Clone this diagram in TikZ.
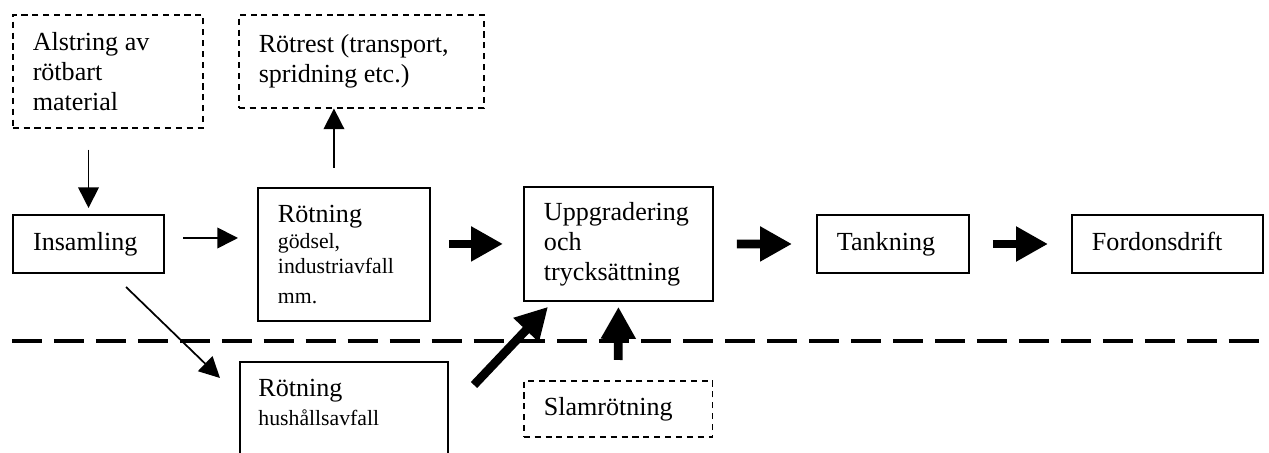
\documentclass[tikz,border=0pt]{standalone}
\usepackage{fontspec}
\setmainfont{Liberation Serif}
\usetikzlibrary{arrows.meta,calc}
\tikzset{
  box/.style={draw, line width=0.9pt, anchor=north west, align=flush left, inner xsep=9.2pt, inner ysep=0pt,
    font=\fontsize{12}{13.8}\selectfont},
  dbox/.style={box, line width=0.7pt, dash pattern=on 2.8pt off 2.2pt},
  oneline/.style={text height=9.4pt, text depth=3pt},
  txt/.style={anchor=base west, align=flush left, inner sep=0pt, font=\fontsize{12}{13.8}\selectfont},
  tarr/.style={line width=0.8pt, -{Triangle[length=9.5pt,width=9.5pt]}},
  karr/.style={line width=4pt, -{Triangle[length=14.7pt,width=15.2pt]}}
}
\newcommand{\smalltxt}{\fontsize{10}{11.3}\selectfont}
\begin{document}
\begin{tikzpicture}[x=0.46pt,y=-0.46pt]
\useasboundingbox (0,0) rectangle (1269,453);
% boxes
\node[dbox, text width=69pt, minimum width=87.4pt, minimum height=52pt] (alst) at (12,14)
  {Alstring av\\rötbart\\material};
\node[dbox, text width=94.3pt, minimum width=112.7pt, minimum height=42.8pt] (rotrest) at (238,14)
  {Rötrest (transport,\\spridning etc.)};
\node[box, oneline, text width=51pt, minimum width=69.5pt, minimum height=26.7pt] (ins) at (12,214)
  {Insamling};
\node[box, text width=60.7pt, minimum width=79.1pt, minimum height=61.2pt] (rot1) at (257,187)
  {Rötning\\[0.8pt]{\smalltxt gödsel,\\industriavfall\\mm.}};
\node[box, text width=68.5pt, minimum width=86.9pt, minimum height=52.4pt] (upp) at (523,186)
  {Uppgradering\\och\\trycksättning};
\node[box, oneline, text width=51.5pt, minimum width=69.9pt, minimum height=26.7pt] (tank) at (816,214)
  {Tankning};
\node[box, oneline, text width=69.5pt, minimum width=87.9pt, minimum height=26.7pt] (ford) at (1071,214)
  {Fordonsdrift};
\node[dbox, oneline, text width=68.5pt, minimum width=86.9pt, minimum height=25.8pt] (slam) at (523,380)
  {Slamrötning};
\begin{scope}
  \clip (0,0) rectangle (1269,453);
  \node[box, minimum width=95.7pt, minimum height=60pt] (rot2) at (239,361) {};
\end{scope}
\node[txt, text width=80pt] (rot2t) at ($(rot2.north west)+(19,36)$)
  {Rötning\\[-0.6pt]{\smalltxt hushållsavfall}};
% dashed separator
\coordinate (ruleL) at (12,341);
\coordinate (ruleR) at (1269,341);
\draw[line width=1.8pt, dash pattern=on 13.8pt off 5.5pt] (ruleL) -- (ruleR);
% arrows
\draw[tarr] ($(ins.north |- alst.south)+(0,21)$) -- ($(ins.north)+(0,-6)$);
\draw[tarr] ($(ins.east)+(18,-6)$) -- ($(ins.east -| rot1.west)+(-19,-6)$);
\draw[tarr] ($(rot1.north)+(-10,-19)$) -- ($(rot1.north |- rotrest.south)+(-10,0)$);
\draw[tarr] ($(ins.south)+(37.5,13)$) -- ($(rot2.north west)+(-19,17)$);
\draw[karr] ($(upp.west -| rot1.east)+(18,0)$) -- ($(upp.west)+(-20,0)$);
\draw[karr] ($(upp.east)+(23,0)$) -- ($(tank.west)+(-24,0)$);
\draw[karr] ($(tank.east)+(23,0)$) -- ($(ford.west)+(-23,0)$);
\draw[karr] ($(rot2.north east)+(25,24)$) -- ($(upp.south west)+(25,5)$);
\draw[karr] ($(slam.north)+(0,-20)$) -- ($(upp.south)+(0,5)$);
\end{tikzpicture}
\end{document}
